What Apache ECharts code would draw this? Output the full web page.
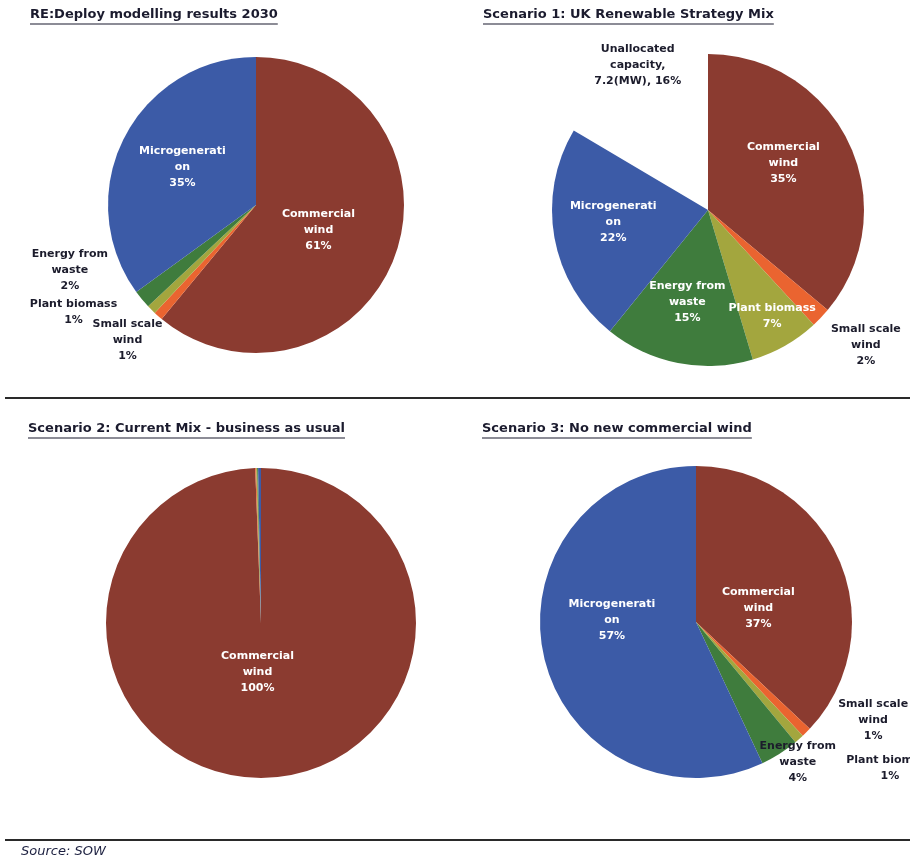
<!DOCTYPE html>
<html><head><meta charset="utf-8">
<script src="https://cdn.jsdelivr.net/npm/echarts@6/dist/echarts.min.js"></script>
<style>html,body{margin:0;padding:0;background:#fff}#c{width:910px;height:860px}</style>
</head><body><div id="c"></div>
<script>
// ---- data ----
const categories = ['Commercial wind', 'Small scale wind', 'Plant biomass', 'Energy from waste', 'Microgeneration'];
const unallocatedName = 'Unallocated capacity, 7.2(MW)';
const scenario1Categories = categories.concat([unallocatedName]);
const deployValues = [61, 1, 1, 2, 35];
const scenario1Values = [35, 2, 7, 15, 22, 16];
const scenario2Values = [100, 0.1, 0.1, 0.1, 0.3];
const scenario3Values = [37, 1, 1, 4, 57];
const chartTitles = [
  'RE:Deploy modelling results 2030',
  'Scenario 1: UK Renewable Strategy Mix',
  'Scenario 2: Current Mix - business as usual',
  'Scenario 3: No new commercial wind'
];
const sourceText = 'Source: SOW';
// wrapped label text as in the original
const labelText = {
  'Commercial wind': 'Commercial\nwind\n',
  'Small scale wind': 'Small scale\nwind\n',
  'Plant biomass': 'Plant biomass\n',
  'Energy from waste': 'Energy from\nwaste\n',
  'Microgeneration': 'Microgenerati\non\n',
  'Unallocated capacity, 7.2(MW)': 'Unallocated\ncapacity,\n7.2(MW), '
};

// ---- style ----
const colors = {
  'Commercial wind': '#8b3b30',
  'Small scale wind': '#ea6430',
  'Plant biomass': '#a3a63e',
  'Energy from waste': '#3f7c3d',
  'Microgeneration': '#3c5ba7',
  'Unallocated capacity, 7.2(MW)': 'rgba(0,0,0,0)'
};
const FONT = "'DejaVu Sans', 'Liberation Sans', Arial, sans-serif";
const darkText = '#1c1c2c';

const layouts = [
  { center: [256, 205], r: 148, names: categories, values: deployValues, cfg: {
      'Commercial wind': {pos: 'inside', dx: -10, dy: -1},
      'Microgeneration': {pos: 'inside', dx: -5, dy: -3},
      'Small scale wind': {pos: 'outside', dx: -23, dy: 21},
      'Plant biomass': {pos: 'outside', dx: -70, dy: 0},
      'Energy from waste': {pos: 'outside', dx: -64, dy: -32}
  }},
  { center: [708, 210], r: 156, names: scenario1Categories, values: scenario1Values, cfg: {
      'Commercial wind': {pos: 'inside', dx: 2, dy: -13},
      'Microgeneration': {pos: 'inside', dx: -15, dy: -2},
      'Energy from waste': {pos: 'inside', dx: -5, dy: 13},
      'Plant biomass': {pos: 'inside', dx: 24, dy: 36},
      'Small scale wind': {pos: 'outside', dx: 37, dy: 25},
      'Unallocated capacity, 7.2(MW)': {pos: 'outside', dx: 14, dy: -6}
  }},
  { center: [261, 623], r: 155, names: categories, values: scenario2Values, cfg: {
      'Commercial wind': {pos: 'inside', dx: -5, dy: -31}
  }},
  { center: [696, 622], r: 156, names: categories, values: scenario3Values, cfg: {
      'Commercial wind': {pos: 'inside', dx: -12, dy: 18},
      'Microgeneration': {pos: 'inside', dx: -5, dy: -20},
      'Energy from waste': {pos: 'outside', dx: 11, dy: 5},
      'Small scale wind': {pos: 'outside', dx: 59, dy: -15},
      'Plant biomass': {pos: 'outside', dx: 83, dy: 26}
  }}
];

function makePie(L) {
  return {
    type: 'pie',
    center: L.center,
    radius: L.r,
    startAngle: 90,
    clockwise: true,
    avoidLabelOverlap: false,
    animation: false,
    silent: true,
    labelLine: {show: false, length: 4, length2: 0},
    data: L.names.map(function (n, i) {
      const c = L.cfg[n];
      return {
        name: n,
        value: L.values[i],
        itemStyle: {color: colors[n], borderWidth: 0},
        label: {
          show: !!c,
          position: c && c.pos === 'inside' ? 'inside' : 'outside',
          color: c && c.pos === 'inside' ? '#ffffff' : darkText,
          fontFamily: FONT,
          fontWeight: 'bold',
          fontSize: 11,
          lineHeight: 16,
          align: 'center',
          formatter: function (p) { return labelText[p.name] + p.value + '%'; }
        },
        labelLine: {show: false}
      };
    }),
    labelLayout: function (p) {
      const c = L.cfg[L.names[p.dataIndex]];
      if (!c) return {};
      return {dx: c.dx, dy: c.dy, align: 'center', verticalAlign: 'middle'};
    }
  };
}

// measure title widths for the underline
const mctx = document.createElement('canvas').getContext('2d');
const titleFont = 'bold 13px ' + FONT;
mctx.font = titleFont;
const titlePos = [[30, 8], [483, 8], [28, 422], [482, 422]];
const graphics = [];
chartTitles.forEach(function (t, i) {
  const w = mctx.measureText(t).width;
  graphics.push({type: 'text', x: titlePos[i][0], y: titlePos[i][1], silent: true,
    style: {text: t, font: titleFont, fill: '#1b1b2e', textVerticalAlign: 'top'}});
  graphics.push({type: 'line', silent: true,
    shape: {x1: titlePos[i][0], y1: titlePos[i][1] + 16, x2: titlePos[i][0] + w, y2: titlePos[i][1] + 16},
    style: {stroke: '#1b1b2e', lineWidth: 1.2}});
});
graphics.push({type: 'line', silent: true, shape: {x1: 5, y1: 398, x2: 910, y2: 398}, style: {stroke: '#2a2a2a', lineWidth: 2}});
graphics.push({type: 'line', silent: true, shape: {x1: 5, y1: 840, x2: 910, y2: 840}, style: {stroke: '#2a2a2a', lineWidth: 2}});
graphics.push({type: 'text', x: 21, y: 845, silent: true,
  style: {text: sourceText, font: 'italic 13px ' + FONT, fill: '#1c2040', textVerticalAlign: 'top'}});

const chart = echarts.init(document.getElementById('c'), null, {renderer: 'canvas'});
chart.setOption({
  backgroundColor: '#ffffff',
  animation: false,
  series: layouts.map(makePie),
  graphic: graphics
});
</script>
</body></html>
